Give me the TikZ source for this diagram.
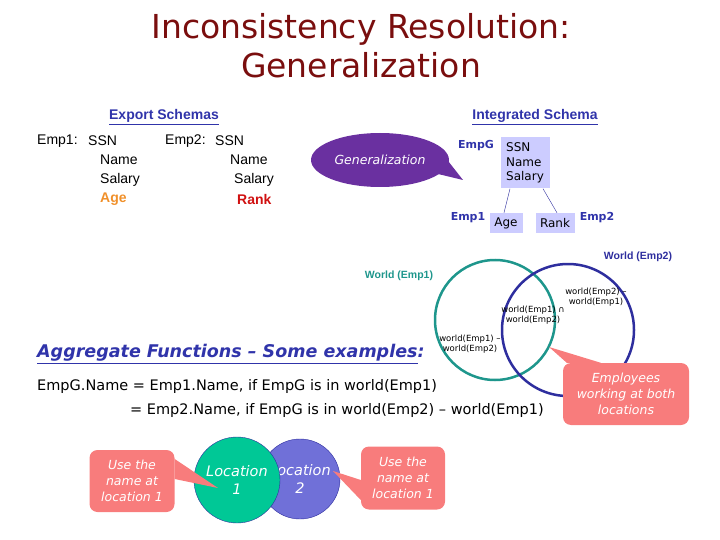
\documentclass[tikz,border=0pt]{standalone}
\usepackage{fontspec}
\setmainfont{DejaVu Sans}
\newfontfamily\schemafont{Liberation Sans}
\usetikzlibrary{positioning,shapes.geometric}
\definecolor{titlered}{RGB}{122,14,14}
\definecolor{headblue}{RGB}{48,52,170}
\definecolor{boxblue}{RGB}{204,204,255}
\definecolor{genpurple}{RGB}{106,48,160}
\definecolor{tealc}{RGB}{30,150,140}
\definecolor{navyc}{RGB}{46,46,158}
\definecolor{pinkc}{RGB}{248,124,124}
\definecolor{agecol}{RGB}{240,144,42}
\definecolor{rankcol}{RGB}{208,16,16}
\definecolor{locgreen}{RGB}{0,200,150}
\definecolor{locpurple}{RGB}{112,112,216}
\tikzset{
  hdr/.style={font=\schemafont\bfseries\fontsize{14}{16}\selectfont, text=headblue},
  sch/.style={font=\schemafont\fontsize{14}{17}\selectfont, anchor=west, inner sep=0pt},
  ent/.style={fill=boxblue, font=\fontsize{12}{14.5}\selectfont, inner sep=2pt, align=left},
  elbl/.style={text=headblue, font=\bfseries\fontsize{11}{13}\selectfont},
  wlbl/.style={font=\schemafont\bfseries\fontsize{10.5}{12}\selectfont},
  wtxt/.style={font=\fontsize{8.5}{10}\selectfont, align=center, inner sep=0pt},
  callout/.style={fill=pinkc, rounded corners=8pt, text=white, align=center, font=\itshape\fontsize{12.5}{16}\selectfont},
  loc/.style={circle, draw=navyc, thin, text=white, align=center, font=\itshape\fontsize{14.5}{18}\selectfont},
  expr/.style={font=\fontsize{14.5}{17}\selectfont, anchor=west, inner sep=0pt},
}
\begin{document}
\begin{tikzpicture}[x=1pt,y=-1pt]
\useasboundingbox (0,0) rectangle (720,540);
\node[text=titlered, font=\fontsize{33}{39}\selectfont, align=center] (title) at (361,46) {Inconsistency Resolution:\\Generalization};
% export schemas
\node[hdr] (exph) at (164,117) {\underline{Export Schemas}};
\node[sch] (e1) at (37,141) {Emp1:};
\node[sch] (e1ssn) at (88,141) {SSN};
\node[sch] (e1name) at (100,160) {Name};
\node[sch] (e1sal) at (100,180) {Salary};
\node[sch, text=agecol, font=\schemafont\bfseries\fontsize{14}{17}\selectfont] (e1age) at (100,199) {Age};
\node[sch] (e2) at (165,141) {Emp2:};
\node[sch] (e2ssn) at (215,141) {SSN};
\node[sch] (e2name) at (230,160) {Name};
\node[sch] (e2sal) at (234,180) {Salary};
\node[sch, text=rankcol, font=\schemafont\bfseries\fontsize{14}{17}\selectfont] (e2rank) at (237,199) {Rank};
% integrated schema
\node[hdr] (inth) at (535,117) {\underline{Integrated Schema}};
\coordinate (gentip) at (463,180);
\fill[genpurple] (380,160) ++(-10:60) -- (gentip) -- (380,160) ++(-55:40) -- cycle;
\node[ellipse, fill=genpurple, minimum width=136, minimum height=54, text=white, font=\itshape\fontsize{12.5}{14}\selectfont] (gen) at (380,160) {Generalization};
\node[ent, minimum width=49, minimum height=51] (empg) at (525,163) {SSN\\Name\\Salary};
\node[ent, minimum width=33, minimum height=20] (age) at (506,223) {Age};
\node[ent, minimum width=39, minimum height=20] (rank) at (555,223) {Rank};
\node[elbl] (empgl) at (476,146) {EmpG};
\node[elbl] (emp1l) at (468,218) {Emp1};
\node[elbl] (emp2l) at (597,218) {Emp2};
\draw[navyc] ([xshift=-15pt]empg.south) -- ([xshift=-2pt]age.north);
\draw[navyc] ([xshift=18pt]empg.south) -- ([xshift=2pt]rank.north);
% worlds
\node[wlbl, text=navyc] (w2lbl) at (638,257) {World (Emp2)};
\node[wlbl, text=tealc] (w1lbl) at (399,276) {World (Emp1)};
\node[circle, draw=tealc, line width=2.5pt, minimum size=120] (w1) at (495,320) {};
\node[circle, draw=navyc, line width=2.5pt, minimum size=132] (w2) at (568,330) {};
\node[wtxt] (w2only) at (596,297) {world(Emp2) –\\world(Emp1)};
\node[wtxt] (both) at (533,315) {world(Emp1) ∩\\world(Emp2)};
\node[wtxt] (w1only) at (470,344) {world(Emp1) –\\world(Emp2)};
\coordinate (bothtip) at (549,347);
\node[callout, minimum width=126, minimum height=62] (bothc) at (626,394) {Employees\\working at both\\locations};
\fill[pinkc] ([xshift=4pt]bothc.north west) -- (bothtip) -- ([xshift=38pt]bothc.north west) -- cycle;
% aggregate functions
\node[expr, text=headblue, font=\bfseries\itshape\fontsize{17.5}{20}\selectfont] (agg) at (37,354) {\underline{Aggregate Functions – Some examples}:};
\node[expr] (rule1) at (37,386) {EmpG.Name = Emp1.Name, if EmpG is in world(Emp1)};
\node[expr] (rule2) at (130,410) {= Emp2.Name, if EmpG is in world(Emp2) – world(Emp1)};
% locations
\node[loc, fill=locpurple, minimum size=80] (loc2) at (300,479) {Location\\2};
\node[loc, fill=locgreen, minimum size=86] (loc1) at (237,480) {Location\\1};
\coordinate (ltip) at (218,488);
\coordinate (rtip) at (333,471);
\node[callout, minimum width=85, minimum height=62] (lcall) at (132,481) {Use the\\name at\\location 1};
\node[callout, minimum width=84, minimum height=63] (rcall) at (403,478) {Use the\\name at\\location 1};
\fill[pinkc] ([yshift=2pt]lcall.east) -- (ltip) -- ([yshift=22pt]lcall.east) -- cycle;
\fill[pinkc] ([yshift=-22pt]rcall.west) -- (rtip) -- ([yshift=-2pt]rcall.west) -- cycle;
\end{tikzpicture}
\end{document}
